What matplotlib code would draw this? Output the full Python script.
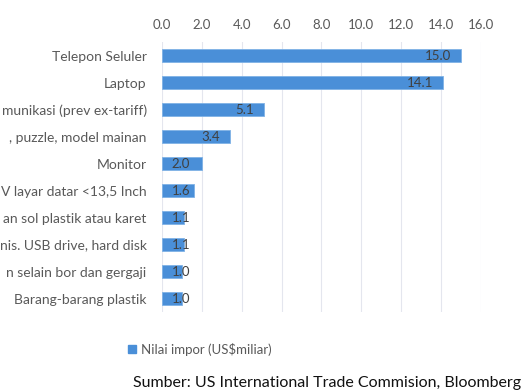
import matplotlib.pyplot as plt
from matplotlib.patches import Patch

plt.rcParams['font.family'] = ['Lato', 'DejaVu Sans']

# Data (labels on the left are cut off in the source image)
categories = [
    "Telepon Seluler",
    "Laptop",
    "munikasi (prev ex-tariff)",
    ", puzzle, model mainan",
    "Monitor",
    "V layar datar <13,5 Inch",
    "an sol plastik atau karet",
    "nis. USB drive, hard disk",
    "n selain bor dan gergaji",
    "Barang-barang plastik",
]
values = [15.0, 14.1, 5.1, 3.4, 2.0, 1.6, 1.1, 1.1, 1.0, 1.0]
xticks = [0, 2, 4, 6, 8, 10, 12, 14, 16]

bar_color = "#4a8fd8"
gray = "#595959"

fig = plt.figure(figsize=(5.24, 3.9), dpi=100)
ax = fig.add_axes([0.309, 0.2, 0.609, 0.692])

pos = list(range(len(categories)))
ax.barh(pos, values, height=0.5, color=bar_color, edgecolor="#7fb2e6", linewidth=0.6, zorder=2)

# data labels at inside end, clamped near the base for short bars
for y, v in zip(pos, values):
    if v - 1.7 < 0.5:
        ax.text(0.5, y, f"{v:.1f}", ha="left", va="center", fontsize=9.5, color="#404040", zorder=3)
    else:
        ax.text(v - 0.5, y, f"{v:.1f}", ha="right", va="center", fontsize=9.5, color="#404040", zorder=3)

ax.set_xlim(0, 16)
ax.set_ylim(len(categories) - 0.5, -0.5)
ax.set_xticks(xticks)
ax.set_xticklabels([f"{t:.1f}" for t in xticks])
ax.xaxis.tick_top()
ax.set_yticks(pos)
ax.set_yticklabels(categories, fontsize=10)
ax.tick_params(axis="both", length=0, colors=gray)
ax.tick_params(axis="x", pad=8, labelsize=9.5)
ax.tick_params(axis="y", pad=11)
ax.grid(axis="x", color="#e4e6ee", linewidth=0.8, zorder=0)
for s in ax.spines.values():
    s.set_visible(False)

fig.legend(handles=[Patch(color=bar_color, label="Nilai impor (US$miliar)")],
           loc="center left", bbox_to_anchor=(0.222, 0.105), frameon=False,
           fontsize=9.5, handlelength=0.6, handleheight=0.6, handletextpad=0.4,
           labelcolor=gray)

fig.text(0.995, 0.0, "Sumber: US International Trade Commision, Bloomberg",
         ha="right", va="bottom", fontsize=11.5, color="#111111")

fig.savefig("out.png", dpi=100)
